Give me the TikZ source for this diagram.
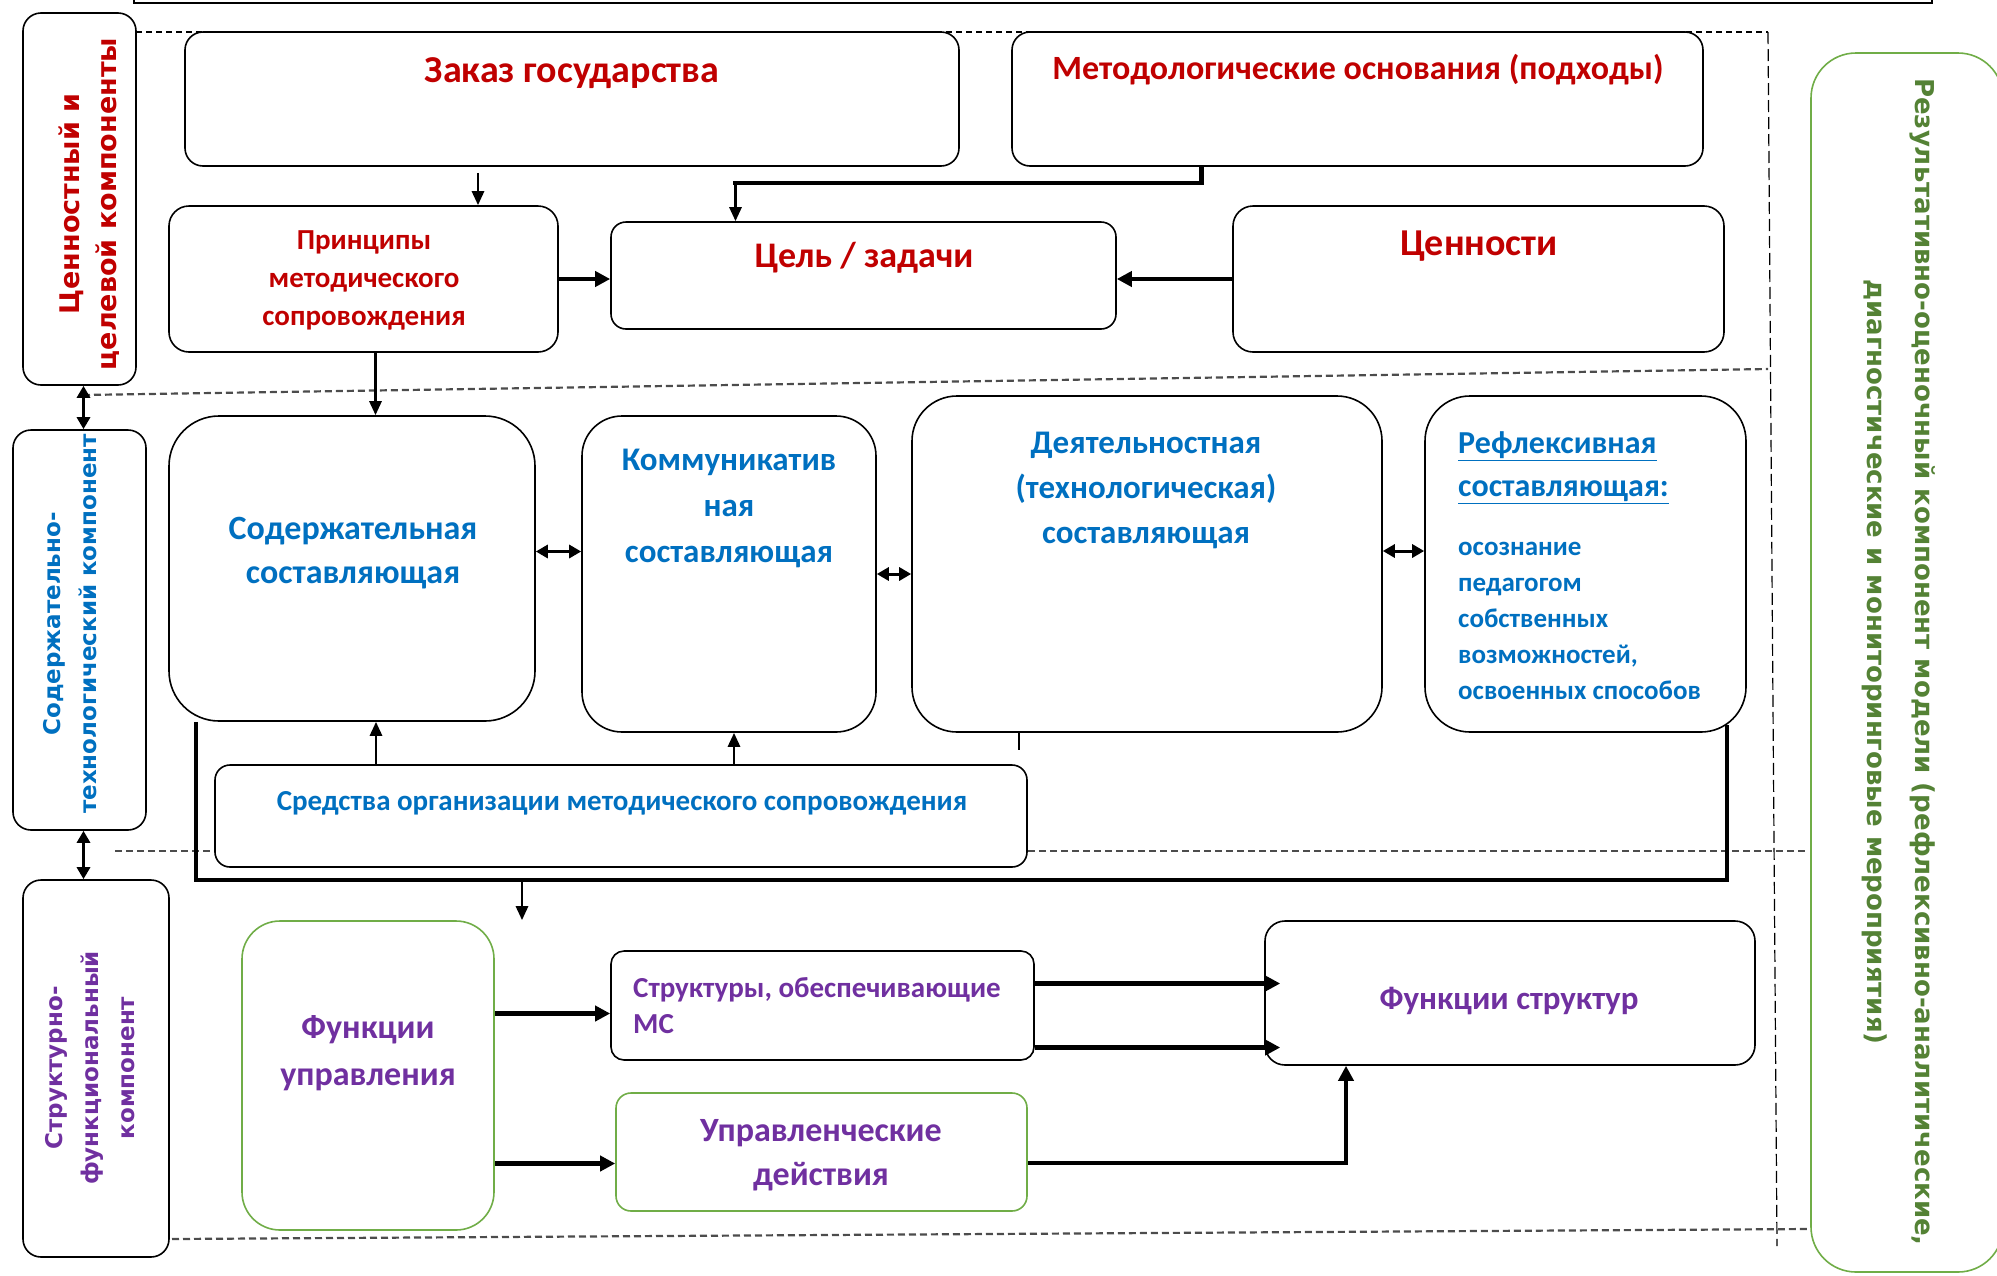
\documentclass[tikz,border=0pt]{standalone}
\usepackage{fontspec}
\setmainfont{Carlito}
\newfontfamily\sidefont{DejaVu Sans}
\usetikzlibrary{arrows.meta,fit}

\definecolor{sred}{HTML}{C00000}
\definecolor{sblue}{HTML}{0070C0}
\definecolor{spurple}{HTML}{7030A0}
\definecolor{sgreen}{HTML}{70AD47}
\definecolor{sdkgreen}{HTML}{548235}

\newcommand{\fsz}[2]{\fontsize{#1}{#2}\selectfont}

\tikzset{
  box/.style={draw, fill=white, line width=1.6pt, inner sep=0pt, rounded corners=#1},
  box/.default=18pt,
  gbox/.style={box=#1, draw=sgreen},
  gbox/.default=18pt,
  txt/.style={font=\bfseries, align=center, inner sep=0pt},
  rtxt/.style={txt, text=sred},
  btxt/.style={txt, text=sblue},
  ptxt/.style={txt, text=spurple},
  side/.style={font=\sidefont\bfseries, align=center, inner sep=0pt},
  arr/.style={-{Triangle[length=14pt,width=12pt]}, line width=2.8pt},
  arrT/.style={-{Triangle[length=15pt,width=15pt]}, line width=4.2pt},
  darr/.style={{Triangle[length=12pt,width=13pt]}-{Triangle[length=12pt,width=13pt]}, line width=3pt},
  sepdash/.style={line width=2.2pt, gray!60!black, dash pattern=on 7pt off 4pt},
  thindash/.style={line width=1.2pt, dash pattern=on 6pt off 4pt},
}

\begin{document}
\begin{tikzpicture}[x=1pt, y=-1pt]
  \useasboundingbox (0,0) rectangle (1997,1275);

  % frame pieces
  \draw[line width=1.8pt] (134,-20) rectangle (1932,3);
  \draw[thindash] (136,32) -- (1768,32);
  \draw[line width=1.2pt, dash pattern=on 12pt off 5pt] (1768,32) -- (1777,1246);
  \draw[sepdash] (83,395) -- (1768,369);
  \draw[sepdash] (115,851) -- (1808,851);
  \draw[sepdash] (172,1239) -- (1808,1229);

  % left and right components
  \node[box, fit={(23,13)(136,385)}] (leftA) {};
  \node[box, fit={(13,430)(146,830)}] (leftB) {};
  \node[box, fit={(23,880)(169,1257)}] (leftC) {};
  \node[gbox=45pt, fit={(1811,53)(2003,1272)}] (right) {};

  \begin{scope}
    \clip (23,13) rectangle (118,385);
    \node[side, text=sred, rotate=90, font=\sidefont\bfseries\fsz{27}{37}] (leftAT) at (90,204) {Ценностный и\\целевой компоненты};
  \end{scope}
  \node[side, text=sblue, rotate=90, font=\sidefont\bfseries\fsz{23}{36}] (leftBT) at (70,624) {Содержательно-\\технологический компонент};
  \node[side, text=spurple, rotate=90, font=\sidefont\bfseries\fsz{23}{36}] (leftCT) at (90,1068) {Структурно-\\функциональный\\компонент};
  \node[side, text=sdkgreen, rotate=-90, font=\sidefont\bfseries\fsz{26}{48}] (rightT) at (1899,662) {Результативно-оценочный компонент модели (рефлексивно-аналитические,\\диагностические и мониторинговые мероприятия)};

  % top block
  \node[box, fit={(185,32)(959,166)}] (zakaz) {};
  \node[box, fit={(1012,32)(1703,166)}] (metod) {};
  \node[box=20pt, fit={(169,206)(558,352)}] (princ) {};
  \node[box=15pt, fit={(611,222)(1116,329)}] (cel) {};
  \node[box=20pt, fit={(1233,206)(1724,352)}] (cenn) {};

  \node[rtxt, font=\bfseries\fsz{38}{44}] (zakazT) at (572,73) {Заказ государства};
  \node[rtxt, font=\bfseries\fsz{34}{40}] (metodT) at (1358,70) {Методологические основания (подходы)};
  \node[rtxt, font=\bfseries\fsz{29}{38}] (princT) at (364,280) {Принципы\\методического\\сопровождения};
  \node[rtxt, font=\bfseries\fsz{36}{42}] (celT) at (864,258) {Цель / задачи};
  \node[rtxt, font=\bfseries\fsz{38}{44}] (cennT) at (1479,246) {Ценности};

  % middle block
  \node[box=50pt, fit={(169,416)(535,721)}] (sod) {};
  \node[box=40pt, fit={(582,416)(876,732)}] (kom) {};
  \node[box=45pt, fit={(912,396)(1382,732)}] (deyat) {};
  \node[box=45pt, fit={(1425,396)(1746,732)}] (refl) {};
  \node[box=15pt, fit={(215,765)(1027,867)}] (sred) {};

  \node[btxt, font=\bfseries\fsz{34}{44}] (sodT) at (353,553) {Содержательная\\составляющая};
  \node[btxt, font=\bfseries\fsz{33}{46}] (komT) at (729,508) {Коммуникатив\\ная\\составляющая};
  \node[btxt, font=\bfseries\fsz{33}{45}] (deyatT) at (1146,490) {Деятельностная\\(технологическая)\\составляющая};
  \node[btxt, font=\bfseries\fsz{32}{43}, align=left, anchor=west] (reflT) at (1458,468) {\underline{Рефлексивная}\\\underline{составляющая:}};
  \node[btxt, font=\bfseries\fsz{27}{36}, align=left, anchor=west] (reflB) at (1458,621) {осознание\\педагогом\\собственных\\возможностей,\\освоенных способов};
  \node[btxt, font=\bfseries\fsz{29}{36}] (sredT) at (622,803) {Средства организации методического сопровождения};

  % bottom block
  \node[gbox=38pt, fit={(242,921)(494,1230)}] (funkU) {};
  \node[box=13pt, fit={(611,951)(1034,1060)}] (struk) {};
  \node[gbox=15pt, fit={(616,1093)(1027,1211)}] (upr) {};
  \node[box=20pt, fit={(1265,921)(1755,1065)}] (funkS) {};

  \node[ptxt, font=\bfseries\fsz{34}{47}] (funkUT) at (368,1053) {Функции\\управления};
  \node[ptxt, font=\bfseries\fsz{29}{36}, align=left, anchor=west] (strukT) at (633,1006) {Структуры, обеспечивающие\\МС};
  \node[ptxt, font=\bfseries\fsz{34}{44}] (uprT) at (821,1155) {Управленческие\\действия};
  \node[ptxt, font=\bfseries\fsz{33}{40}] (funkST) at (1509,1001) {Функции структур};

  % connectors
  \draw[arr] ([xshift=-94pt,yshift=-6pt]zakaz.south) -- ([xshift=-94pt]zakaz.south |- princ.north);
  \draw[line width=4.2pt] ([xshift=-156pt]metod.south) -- ++(0,16) -| ([xshift=-128pt,yshift=40pt]cel.north);
  \draw[arr] ([xshift=-128pt,yshift=40pt]cel.north) -- ([xshift=-128pt]cel.north);
  \draw[arrT] (princ.east) -- (cel.west |- princ.east);
  \draw[arrT] (cenn.west) -- (cel.east |- cenn.west);
  \draw[arr] ([xshift=12pt]princ.south) -- ([xshift=12pt]princ.south |- sod.north);

  \draw[darr] ([xshift=4pt]leftA.south) -- ([xshift=4pt]leftA.south |- leftB.north);
  \draw[darr] ([xshift=4pt]leftB.south) -- ([xshift=4pt]leftB.south |- leftC.north);

  \draw[darr] ([yshift=17pt]sod.east) -- ([yshift=17pt]sod.east -| kom.west);
  \draw[darr] (kom.east) -- (kom.east -| deyat.west);
  \draw[darr] ([yshift=13pt]deyat.east) -- ([yshift=13pt]deyat.east -| refl.west);

  \draw[arr] ([xshift=-245pt]sred.north) -- ([xshift=-245pt]sred.north |- sod.south);
  \draw[arr] ([xshift=113pt]sred.north) -- ([xshift=113pt]sred.north |- kom.south);
  \draw[line width=2.8pt] ([xshift=-128pt]deyat.south) -- ++(0,17);

  \draw[line width=4.2pt] ([xshift=28pt]sod.south west) -- ++(0,158) -| ([xshift=-20pt,yshift=8pt]refl.south east);
  \coordinate (junc) at (522,879);
  \draw[arr] (junc) -- (junc |- funkU.north);

  \draw[arrT] ([yshift=62pt]funkU.east) -- ([yshift=62pt]funkU.east -| struk.west);
  \draw[arrT] ([yshift=-88pt]funkU.east) -- ([yshift=-88pt]funkU.east -| upr.west);
  \draw[arrT] ([yshift=22pt]struk.east) -- ([xshift=16pt,yshift=22pt]struk.east -| funkS.west);
  \draw[arrT] ([yshift=-42pt]struk.east) -- ([xshift=16pt,yshift=-42pt]struk.east -| funkS.west);
  \draw[arrT] ([yshift=-11pt]upr.east) -| ([xshift=-164pt]funkS.south);
\end{tikzpicture}
\end{document}
